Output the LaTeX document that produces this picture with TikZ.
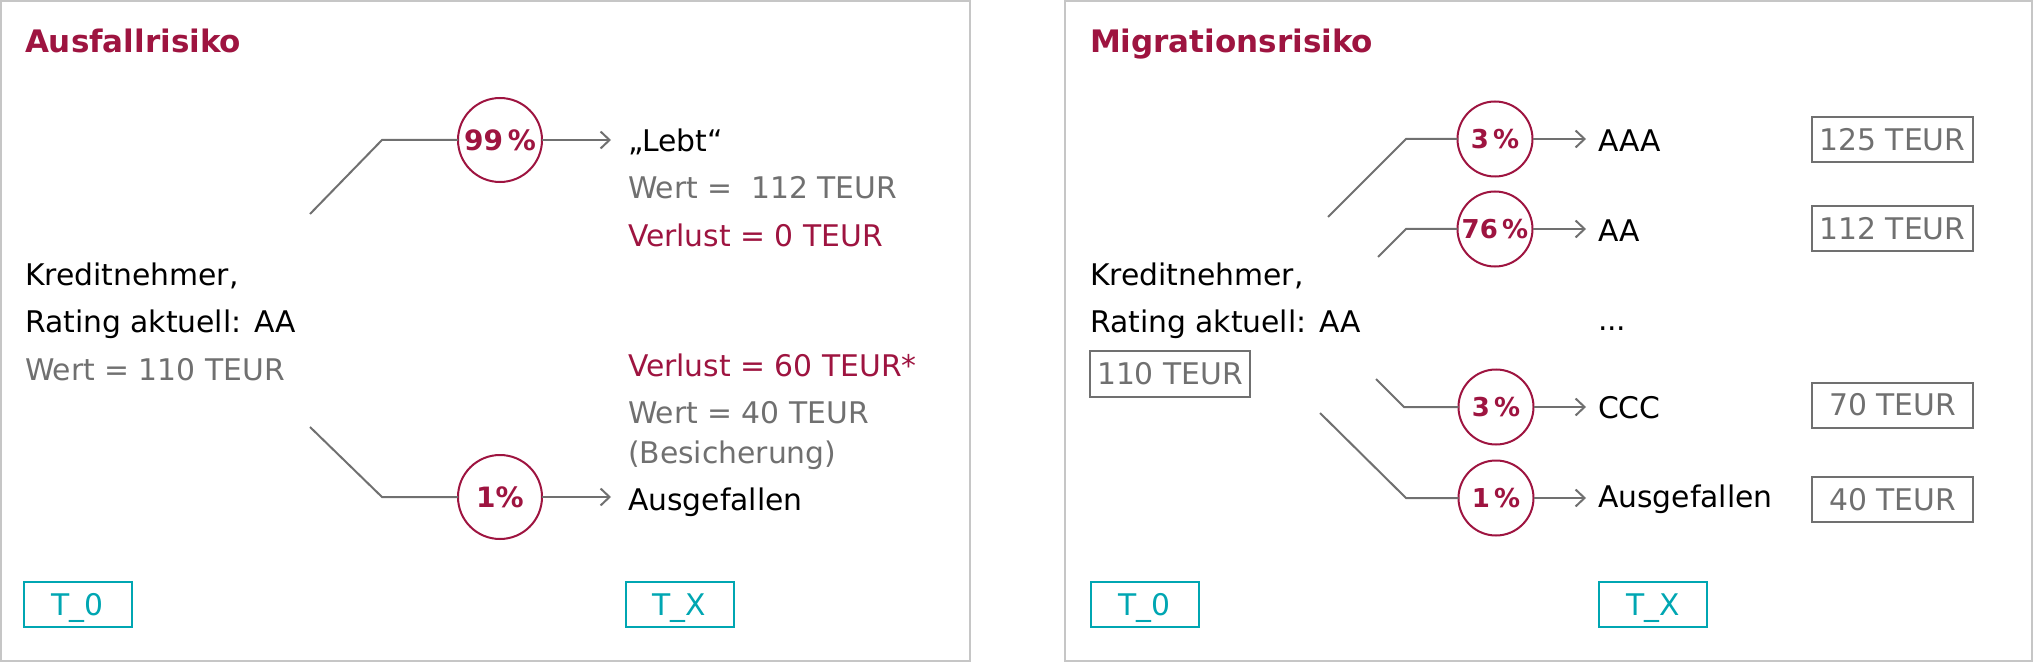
\documentclass[tikz,border=0pt]{standalone}
\usepackage{fontspec}
\setmainfont{DejaVu Sans}
\usetikzlibrary{arrows.meta}
\definecolor{crim}{RGB}{158,20,64}
\definecolor{txtgray}{RGB}{112,112,112}
\definecolor{lngray}{RGB}{112,112,112}
\definecolor{tealc}{RGB}{0,166,178}
\definecolor{framec}{RGB}{198,198,198}
\begin{document}
\begin{tikzpicture}[x=1pt,y=-1pt,
 every node/.style={inner sep=0pt, outer sep=0pt},
 txt/.style={anchor=base west, font=\fontsize{29.8}{36}\selectfont, text=black},
 gtxt/.style={txt, text=txtgray},
 rtxt/.style={txt, text=crim},
 ttl/.style={anchor=base west, font=\fontsize{31}{36}\selectfont\bfseries, text=crim},
 pct/.style={circle, draw=crim, line width=2pt, fill=white, minimum size=84pt, font=\fontsize{28}{32}\selectfont\bfseries, text=crim, text height=20.4pt, text depth=0pt},
 pcts/.style={pct, minimum size=75pt, font=\fontsize{26}{30}\selectfont\bfseries, text height=19pt},
 conn/.style={draw=lngray, line width=2pt},
 arr/.style={conn, -{Straight Barb[length=9pt,width=17pt]}},
 tbox/.style={draw=tealc, line width=2pt, minimum width=108pt, minimum height=45pt, text=tealc, font=\fontsize{29.8}{36}\selectfont, text height=21.7pt, text depth=0pt},
 vbox/.style={draw=lngray, line width=2pt, minimum width=161pt, minimum height=45pt, text=txtgray, font=\fontsize{29.8}{36}\selectfont, text height=21.7pt, text depth=0pt},
 panel/.style={draw=framec, line width=2pt, fill=none}
]
\useasboundingbox (0,0) rectangle (2035,663);
% panels
\node[panel, minimum width=969pt, minimum height=660pt] (p1) at (485.5,331) {};
\node[panel, minimum width=967pt, minimum height=660pt] (p2) at (1548.5,331) {};

% ---------------- left panel
\node[ttl] (t1) at (25,53) {Ausfallrisiko};
\node[txt] (k1) at (25,285) {Kreditnehmer,};
\node[txt] (k2) at (25,332) {Rating aktuell: AA};
\node[gtxt] (k3) at (25,380) {Wert = 110 TEUR};

\node[pct] (c1) at (500,140) {99\,\%};
\node[pct] (c2) at (500,497) {1\%};
\coordinate (s1) at (310,214);
\coordinate (b1) at (382,140);
\coordinate (e1) at (611,140);
\coordinate (s2) at (310,427);
\coordinate (b2) at (382,497);
\coordinate (e2) at (611,497);
\draw[conn] (s1) -- (b1) -- (c1);
\draw[arr] (c1) -- (e1);
\draw[conn] (s2) -- (b2) -- (c2);
\draw[arr] (c2) -- (e2);

\node[txt] (lebt) at (628,152) {„Lebt“};
\node[gtxt] (w1) at (628,199) {Wert =~~112 TEUR};
\node[rtxt] (v1) at (628,247) {Verlust = 0 TEUR};
\node[rtxt] (v2) at (628,376) {Verlust = 60 TEUR*};
\node[gtxt] (w2) at (628,423) {Wert = 40 TEUR};
\node[gtxt] (bes) at (628,463) {(Besicherung)};
\node[txt] (aus1) at (628,510) {Ausgefallen};

\node[tbox] (t01) at (77.5,604.5) {T\_0};
\node[tbox] (tx1) at (679.5,604.5) {T\_X};

% ---------------- right panel
\node[ttl] (t2) at (1090,53) {Migrationsrisiko};
\node[txt] (m1) at (1090,285) {Kreditnehmer,};
\node[txt] (m2) at (1090,332) {Rating aktuell: AA};
\node[vbox, minimum width=160pt, minimum height=46pt] (v110) at (1170,374) {110 TEUR};

\node[pcts] (r1) at (1495,139) {3\,\%};
\node[pcts] (r2) at (1495,229) {76\,\%};
\node[pcts] (r3) at (1496,407) {3\,\%};
\node[pcts] (r4) at (1496,498) {1\,\%};

\coordinate (rs1) at (1328,217);
\coordinate (rb1) at (1406,139);
\coordinate (re1) at (1586,139);
\coordinate (rs2) at (1378,257);
\coordinate (rb2) at (1406,229);
\coordinate (re2) at (1586,229);
\coordinate (rs3) at (1376,379);
\coordinate (rb3) at (1404,407);
\coordinate (re3) at (1586,407);
\coordinate (rs4) at (1320,413);
\coordinate (rb4) at (1406,498);
\coordinate (re4) at (1586,498);
\draw[conn] (rs1) -- (rb1) -- (r1);
\draw[arr] (r1) -- (re1);
\draw[conn] (rs2) -- (rb2) -- (r2);
\draw[arr] (r2) -- (re2);
\draw[conn] (rs3) -- (rb3) -- (r3);
\draw[arr] (r3) -- (re3);
\draw[conn] (rs4) -- (rb4) -- (r4);
\draw[arr] (r4) -- (re4);

\node[txt] (aaa) at (1598,152) {AAA};
\node[txt] (aa) at (1598,241) {AA};
\node[txt] (dots) at (1598,330) {...};
\node[txt] (ccc) at (1598,418) {CCC};
\node[txt] (aus2) at (1598,507) {Ausgefallen};

\node[vbox] (v125) at (1892.5,139.5) {125 TEUR};
\node[vbox] (v112) at (1892.5,228.5) {112 TEUR};
\node[vbox] (v70) at (1892.5,405) {70 TEUR};
\node[vbox] (v40) at (1892.5,499.5) {40 TEUR};

\node[tbox] (t02) at (1144.5,604.5) {T\_0};
\node[tbox] (tx2) at (1653,604.5) {T\_X};
\end{tikzpicture}
\end{document}
